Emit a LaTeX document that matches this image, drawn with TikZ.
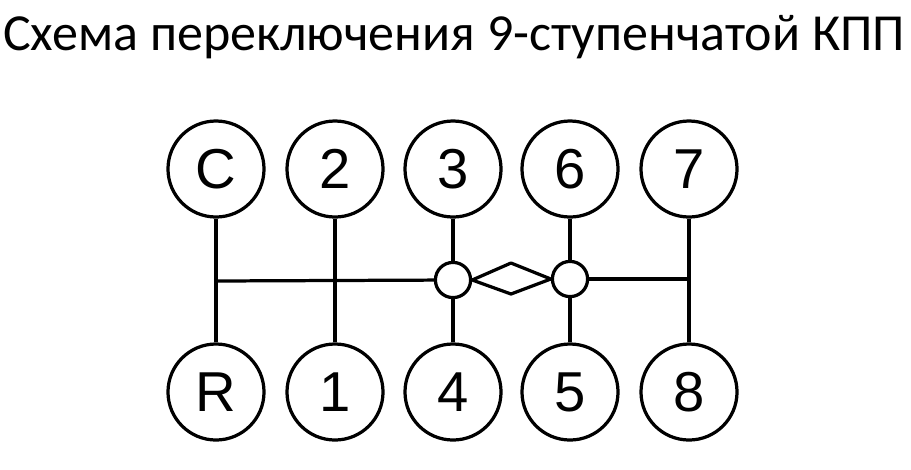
\documentclass[tikz,border=0pt]{standalone}
\usepackage{fontspec}
\setmainfont{Liberation Sans}
\newfontfamily\titlefont{Carlito}
\tikzset{
	gear/.style={draw, circle, line width=2.3pt, minimum size=2.4cm, inner sep=0pt, font=\fontsize{40}{44}\selectfont},
	knot/.style={draw, circle, line width=2.3pt, minimum size=0.88cm, inner sep=0pt},
	rod/.style={line width=2.3pt}
}
\begin{document}
\begin{tikzpicture}[x=0.025cm,y=-0.025cm]
		\useasboundingbox (0,0) rectangle (911,469);
		\node at (454,37) (title) {\titlefont\fontsize{37}{42}\selectfont Схема переключения 9-ступенчатой КПП};
		% top row
		\node[gear] at (216,169) (c) {C};
		\node[gear] at (335,169) (two) {2};
		\node[gear] at (453,169) (three) {3};
		\node[gear] at (570,169) (six) {6};
		\node[gear] at (689,169) (seven) {7};
		% bottom row
		\node[gear] at (216,392) (r) {R};
		\node[gear] at (335,392) (one) {1};
		\node[gear] at (453,392) (four) {4};
		\node[gear] at (570,392) (five) {5};
		\node[gear] at (689,392) (eight) {8};
		% neutral line
		\node[knot] at (453,280) (sa) {};
		\node[knot] at (570,279) (sb) {};
		\coordinate (jl) at (216,281);
		\coordinate (jr) at (689,279);
		\coordinate (dtop) at (511,263);
		\coordinate (dbot) at (511,294);
		\draw[rod] (c) -- (r);
		\draw[rod] (two) -- (one);
		\draw[rod] (seven) -- (eight);
		\draw[rod] (three) -- (sa) -- (four);
		\draw[rod] (six) -- (sb);
		\draw[line width=3.2pt] (sb) -- (five);
		\draw[rod] (jl) -- (sa);
		\draw[rod] (sb) -- (jr);
		\draw[rod, line join=round] (sa.east) -- (dtop) -- (sb.west) -- (dbot) -- cycle;
	\end{tikzpicture}
\end{document}
